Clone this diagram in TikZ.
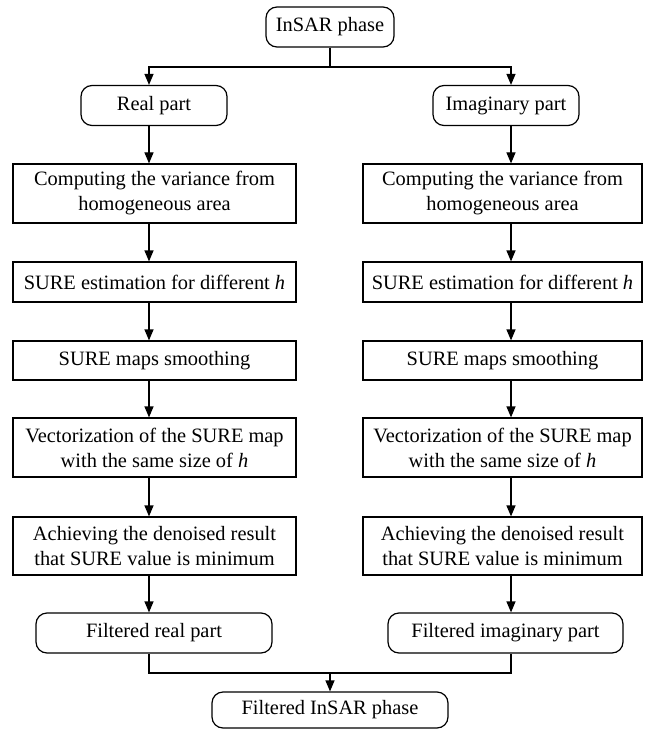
\documentclass[tikz,border=0pt]{standalone}
\usepackage{fontspec}
\setmainfont{Liberation Serif}
\usetikzlibrary{arrows.meta}
\tikzset{
  base/.style={draw=black, line width=1.2pt, inner sep=0pt, align=center,
    font=\fontsize{20.4}{25}\selectfont, anchor=center},
  rbox/.style={base, rounded corners=11pt},
  sbox/.style={base},
  conn/.style={line width=1.2pt, draw=black},
  arr/.style={conn, -{Triangle[width=9pt,length=11pt]}}
}
\begin{document}
\begin{tikzpicture}[x=1pt,y=-1pt]
\useasboundingbox (0,0) rectangle (645,730);

\node[rbox, minimum width=128pt, minimum height=40pt] (top) at (330,27) {InSAR phase};
\node[rbox, minimum width=146pt, minimum height=40pt] (real) at (154,105.5) {Real part};
\node[rbox, minimum width=146pt, minimum height=40pt] (imag) at (506,105.5) {Imaginary part};

\node[sbox, minimum width=283pt, minimum height=59pt] (l1) at (154.5,193.5) {Computing the variance from\\homogeneous area};
\node[sbox, minimum width=283pt, minimum height=40pt] (l2) at (154.5,282) {SURE estimation for different \textit{h}};
\node[sbox, minimum width=283pt, minimum height=39pt] (l3) at (154.5,360.5) {SURE maps smoothing};
\node[sbox, minimum width=283pt, minimum height=59pt] (l4) at (154.5,447.5) {Vectorization of the SURE map\\with the same size of \textit{h}};
\node[sbox, minimum width=283pt, minimum height=58pt] (l5) at (154.5,546) {Achieving the denoised result\\that SURE value is minimum};

\node[sbox, minimum width=279pt, minimum height=59pt] (r1) at (502.5,193.5) {Computing the variance from\\homogeneous area};
\node[sbox, minimum width=279pt, minimum height=40pt] (r2) at (502.5,282) {SURE estimation for different \textit{h}};
\node[sbox, minimum width=279pt, minimum height=39pt] (r3) at (502.5,360.5) {SURE maps smoothing};
\node[sbox, minimum width=279pt, minimum height=59pt] (r4) at (502.5,447.5) {Vectorization of the SURE map\\with the same size of \textit{h}};
\node[sbox, minimum width=279pt, minimum height=58pt] (r5) at (502.5,546) {Achieving the denoised result\\that SURE value is minimum};

\node[rbox, minimum width=236pt, minimum height=40pt] (fr) at (154,633) {Filtered real part};
\node[rbox, minimum width=235pt, minimum height=40pt] (fi) at (505.5,633) {Filtered imaginary part};
\node[rbox, minimum width=236pt, minimum height=36pt] (fin) at (330,710) {Filtered InSAR phase};

\coordinate (sL) at (149,67);
\coordinate (sR) at (511,67);
\coordinate (jL) at (149,673);
\coordinate (jR) at (511,673);

\draw[arr] (top.south) |- (sL) -- (sL |- real.north);
\draw[arr] (top.south) |- (sR) -- (sR |- imag.north);

\draw[arr] (real.south -| sL) -- (l1.north -| sL);
\draw[arr] (l1.south -| sL) -- (l2.north -| sL);
\draw[arr] (l2.south -| sL) -- (l3.north -| sL);
\draw[arr] (l3.south -| sL) -- (l4.north -| sL);
\draw[arr] (l4.south -| sL) -- (l5.north -| sL);
\draw[arr] (l5.south -| sL) -- (fr.north -| sL);

\draw[arr] (imag.south -| sR) -- (r1.north -| sR);
\draw[arr] (r1.south -| sR) -- (r2.north -| sR);
\draw[arr] (r2.south -| sR) -- (r3.north -| sR);
\draw[arr] (r3.south -| sR) -- (r4.north -| sR);
\draw[arr] (r4.south -| sR) -- (r5.north -| sR);
\draw[arr] (r5.south -| sR) -- (fi.north -| sR);

\draw[conn] (fr.south -| jL) -- (jL) -- (jR) -- (fi.south -| jR);
\draw[arr] (fin.north |- jL) -- (fin.north);
\end{tikzpicture}
\end{document}
